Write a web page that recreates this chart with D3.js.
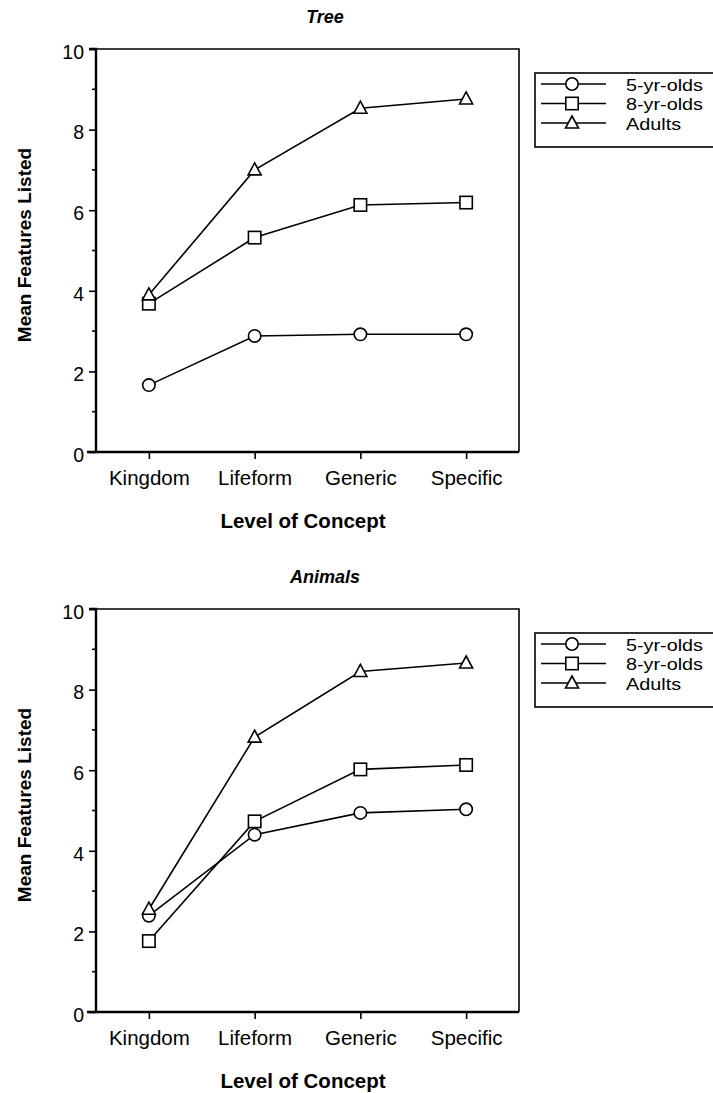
<!DOCTYPE html>
<html><head><meta charset="utf-8">
<script src="https://cdn.jsdelivr.net/npm/d3@7/dist/d3.min.js"></script>
<style>body{margin:0;background:#fff}svg{display:block}text{font-family:"Liberation Sans",Arial,sans-serif}</style>
</head><body>
<script>
const categories = ["Kingdom","Lifeform","Generic","Specific"];
const seriesNames = ["5-yr-olds","8-yr-olds","Adults"];
const markerTypes = ["circle","square","triangle"];
const yTicks = [0,2,4,6,8,10];
const yMinorTicks = [1,3,5,7,9];
const treeTitle = "Tree";
const tree5 = [1.66,2.88,2.92,2.92];
const tree8 = [3.68,5.32,6.13,6.19];
const treeAdults = [3.90,7.0,8.53,8.76];
const animalsTitle = "Animals";
const animals5 = [2.39,4.40,4.94,5.03];
const animals8 = [1.76,4.73,6.02,6.13];
const animalsAdults = [2.55,6.82,8.45,8.66];
const xTitle = "Level of Concept";
const yTitle = "Mean Features Listed";

const W=713,H=1093;
const svg=d3.select("body").append("svg").attr("width",W).attr("height",H);

function marker(g,type,x,y){
  if(type==="circle") g.append("circle").attr("cx",x).attr("cy",y).attr("r",6.2).attr("fill","#fff").attr("stroke","#000").attr("stroke-width",1.6);
  else if(type==="square") g.append("rect").attr("x",x-6.2).attr("y",y-6.2).attr("width",12.4).attr("height",12.4).attr("fill","#fff").attr("stroke","#000").attr("stroke-width",1.6);
  else g.append("path").attr("d",`M${x},${y-7}L${x+6.5},${y+5}L${x-6.5},${y+5}Z`).attr("fill","#fff").attr("stroke","#000").attr("stroke-width",1.6);
}

function drawChart(oy,title,series){
  const g=svg.append("g").attr("transform",`translate(0,${oy})`);
  const left=96,right=519,top=49,bottom=452;
  const x=d3.scalePoint().domain(categories).range([left,right]).padding(0.5);
  const y=d3.scaleLinear().domain([0,10]).range([bottom,top]);
  g.append("text").attr("x",325).attr("y",23).attr("text-anchor","middle").attr("font-weight","bold").attr("font-style","italic").attr("font-size",18).text(title);
  g.append("path").attr("d",`M${left},${top}H${right}V${bottom}`).attr("fill","none").attr("stroke","#000").attr("stroke-width",1.6);
  const ya=g.append("g").attr("transform",`translate(${left},0)`).call(d3.axisLeft(y).tickValues(yTicks).tickSize(7).tickPadding(5).tickFormat(d3.format("d")));
  ya.select(".domain").attr("stroke-width",2.4).attr("d",`M-7,${top}H0V${bottom}`);
  ya.selectAll(".tick line").attr("stroke-width",1.6);
  ya.selectAll("text").attr("font-size",19.5).attr("dy","0.48em").attr("font-family","Liberation Sans, Arial, sans-serif").attr("fill","#000");
  g.append("g").selectAll("line").data(yMinorTicks).join("line").attr("x1",left-4).attr("x2",left).attr("y1",d=>y(d)).attr("y2",d=>y(d)).attr("stroke","#000").attr("stroke-width",1.6);
  const xa=g.append("g").attr("transform",`translate(0,${bottom})`).call(d3.axisBottom(x).tickSize(7));
  xa.select(".domain").attr("stroke-width",2.4).attr("d",`M${left-9},0H${right}`);
  xa.selectAll(".tick line").attr("stroke-width",1.6);
  xa.selectAll("text").attr("font-size",20.5).attr("y",33).attr("dy",0).attr("font-family","Liberation Sans, Arial, sans-serif").attr("fill","#000");
  g.append("text").attr("x",303).attr("y",528).attr("text-anchor","middle").attr("font-weight","bold").attr("font-size",20.5).text(xTitle);
  g.append("text").attr("transform",`translate(31,245) rotate(-90)`).attr("text-anchor","middle").attr("font-weight","bold").attr("font-size",19).text(yTitle);
  const line=d3.line().x((d,i)=>x(categories[i])).y(d=>y(d));
  series.forEach(vals=>{
    g.append("path").attr("d",line(vals)).attr("fill","none").attr("stroke","#000").attr("stroke-width",1.6);
  });
  series.forEach((vals,si)=>{
    vals.forEach((v,i)=>marker(g,markerTypes[si],x(categories[i]),y(v)));
  });
  const lg=g.append("g");
  lg.append("rect").attr("x",535).attr("y",73).attr("width",180).attr("height",74).attr("fill","#fff").attr("stroke","#000").attr("stroke-width",1.6);
  seriesNames.forEach((n,i)=>{
    const ly=84+i*19.5;
    lg.append("line").attr("x1",541).attr("x2",606).attr("y1",ly).attr("y2",ly).attr("stroke","#000").attr("stroke-width",1.6);
    marker(lg,markerTypes[i],572,ly);
    const t=lg.append("text").attr("x",626).attr("y",ly+6.5).attr("font-size",16.8).text(n);
    const len=t.node().getComputedTextLength();
    t.attr("textLength",len*1.18).attr("lengthAdjust","spacingAndGlyphs");
  });
}
drawChart(0,treeTitle,[tree5,tree8,treeAdults]);
drawChart(560,animalsTitle,[animals5,animals8,animalsAdults]);
</script>
</body></html>
